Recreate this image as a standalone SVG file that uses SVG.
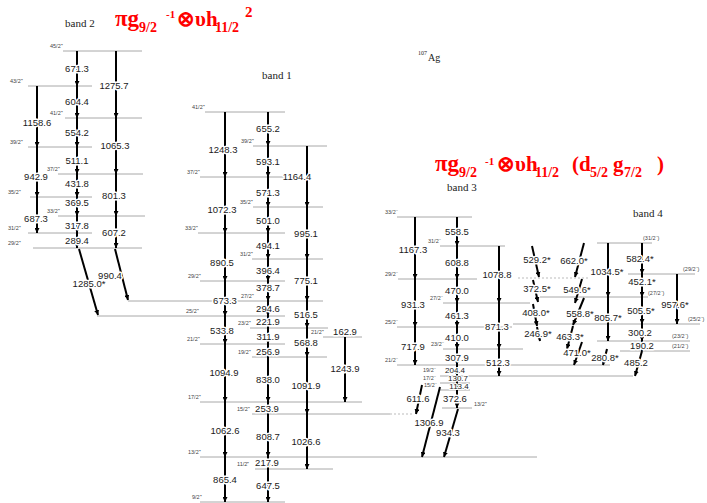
<svg xmlns="http://www.w3.org/2000/svg" width="707" height="503" viewBox="0 0 707 503">
<defs>
<marker id="ah" viewBox="0 0 6 6" refX="6" refY="3" markerWidth="5" markerHeight="5" markerUnits="userSpaceOnUse" orient="auto"><path d="M0,0 L6,3 L0,6z" fill="#000"/></marker>
<style>
.lv{stroke:#a8a8a8;stroke-width:1;fill:none}
.dt{stroke:#bbb;stroke-width:1;stroke-dasharray:2 2;fill:none}
.tr{stroke:#000;stroke-width:2;fill:none;marker-end:url(#ah)}
.e{font-family:"Liberation Sans",Arial,sans-serif;font-size:9.5px;text-anchor:middle;fill:#1a1a1a;stroke:#fff;stroke-width:3;paint-order:stroke;stroke-linejoin:round}
.sm{font-size:8px;stroke-width:2}
.s{font-family:"Liberation Sans",Arial,sans-serif;font-size:5.5px;fill:#444}
.b{font-family:"Liberation Serif","Times New Roman",serif;font-size:11px;fill:#222}
.t{font-family:"Liberation Serif","Times New Roman",serif;font-weight:bold;fill:#f00;font-size:21px}
.pg{font-size:23px}
.sb{font-size:14px}
.sp{font-size:11px}
</style>
</defs>
<rect width="707" height="503" fill="#fff"/>

<g id="titles">
<text class="t" y="26"><tspan class="pg" x="115">πg</tspan><tspan class="sb" x="139" y="32">9/2</tspan><tspan class="sp" x="166" y="18">-1</tspan><tspan x="177" y="26">⊗υh</tspan><tspan class="sb" x="215" y="32">11/2</tspan><tspan x="245" y="17" font-size="15px">2</tspan></text>
<text class="t" y="171"><tspan class="pg" x="435">πg</tspan><tspan class="sb" x="459" y="177">9/2</tspan><tspan class="sp" x="485" y="165">-1</tspan><tspan x="497" y="171">⊗υh</tspan><tspan class="sb" x="535" y="177">11/2</tspan><tspan x="572" y="171">(d</tspan><tspan class="sb" x="590" y="177">5/2</tspan><tspan x="613" y="171">g</tspan><tspan class="sb" x="624" y="177">7/2</tspan><tspan x="657" y="171">)</tspan></text>
<text class="b" x="65" y="27">band 2</text>
<text class="b" x="262" y="79">band 1</text>
<text class="b" x="447" y="191">band 3</text>
<text class="b" x="633" y="217">band 4</text>
<text font-family="Liberation Serif,serif" fill="#222"><tspan x="418" y="55" font-size="6px">107</tspan><tspan x="428" y="61" font-size="10px">Ag</tspan></text>
</g>

<g id="levels">
<g id="b2-45"><line class="lv" x1="63" y1="51" x2="142" y2="51"/><text class="s" x="50" y="48">45/2⁺</text></g>
<g id="b2-43"><line class="lv" x1="28" y1="86" x2="92" y2="86"/><text class="s" x="10" y="83">43/2⁺</text></g>
<g id="b2-41"><line class="lv" x1="65" y1="118" x2="142" y2="118"/><text class="s" x="50" y="115">41/2⁺</text></g>
<g id="b2-39"><line class="lv" x1="28" y1="147" x2="92" y2="147"/><text class="s" x="10" y="144">39/2⁺</text></g>
<g id="b2-37"><line class="lv" x1="58" y1="174" x2="143" y2="174"/><text class="s" x="47" y="171">37/2⁺</text></g>
<g id="b2-35"><line class="lv" x1="30" y1="197" x2="92" y2="197"/><text class="s" x="8" y="194">35/2⁺</text></g>
<g id="b2-33"><line class="lv" x1="58" y1="216" x2="145" y2="216"/><text class="s" x="47" y="213">33/2⁺</text></g>
<g id="b2-31"><line class="lv" x1="28" y1="233" x2="92" y2="233"/><text class="s" x="8" y="230">31/2⁺</text></g>
<g id="b2-29"><line class="lv" x1="33" y1="248" x2="142" y2="248"/><text class="s" x="8" y="245">29/2⁺</text></g>

<g id="b1-41"><line class="lv" x1="205" y1="112" x2="285" y2="112"/><text class="s" x="192" y="109">41/2⁺</text></g>
<g id="b1-39"><line class="lv" x1="253" y1="146" x2="327" y2="146"/><text class="s" x="241" y="143">39/2⁺</text></g>
<g id="b1-37"><line class="lv" x1="200" y1="177" x2="285" y2="177"/><text class="s" x="187" y="174">37/2⁺</text></g>
<g id="b1-35"><line class="lv" x1="253" y1="207" x2="323" y2="207"/><text class="s" x="240" y="204">35/2⁺</text></g>
<g id="b1-33"><line class="lv" x1="198" y1="233" x2="285" y2="233"/><text class="s" x="185" y="230">33/2⁺</text></g>
<g id="b1-31"><line class="lv" x1="252" y1="259" x2="323" y2="259"/><text class="s" x="240" y="256">31/2⁺</text></g>
<g id="b1-29"><line class="lv" x1="200" y1="281" x2="285" y2="281"/><text class="s" x="188" y="278">29/2⁺</text></g>
<g id="b1-27"><line class="lv" x1="128" y1="301" x2="323" y2="301"/><text class="s" x="241" y="298">27/2⁺</text></g>
<g id="b1-25"><line class="lv" x1="97" y1="316" x2="285" y2="316"/><text class="s" x="186" y="313">25/2⁺</text></g>
<g id="b1-23"><line class="lv" x1="250" y1="328" x2="328" y2="328"/><text class="s" x="238" y="325">23/2⁺</text></g>
<g id="b1-21b"><line class="lv" x1="323" y1="337" x2="362" y2="337"/><text class="s" x="311" y="334">21/2⁺</text></g>
<g id="b1-21"><line class="lv" x1="200" y1="344" x2="285" y2="344"/><text class="s" x="187" y="341">21/2⁺</text></g>
<g id="b1-19"><line class="lv" x1="252" y1="357" x2="327" y2="357"/><text class="s" x="238" y="354">19/2⁺</text></g>
<g id="b1-17"><line class="lv" x1="200" y1="402" x2="362" y2="402"/><text class="s" x="188" y="399">17/2⁺</text></g>
<g id="b1-15"><line class="lv" x1="252" y1="414" x2="390" y2="414"/><line class="dt" x1="390" y1="414" x2="413" y2="414"/><text class="s" x="237" y="411">15/2⁺</text></g>
<g id="b1-13"><line class="lv" x1="200" y1="457" x2="537" y2="457"/><text class="s" x="188" y="454">13/2⁺</text></g>
<g id="b1-11"><line class="lv" x1="255" y1="469" x2="333" y2="469"/><text class="s" x="237" y="466">11/2⁺</text></g>
<g id="b1-9"><line class="lv" x1="200" y1="502" x2="285" y2="502"/><text class="s" x="192" y="499">9/2⁺</text></g>

<g id="b3-33"><line class="lv" x1="397" y1="217" x2="472" y2="217"/><text class="s" x="385" y="214">33/2⁻</text></g>
<g id="b3-31"><line class="lv" x1="440" y1="246" x2="505" y2="246"/><text class="s" x="428" y="243">31/2⁻</text></g>
<g id="b3-29"><line class="lv" x1="398" y1="279" x2="477" y2="279"/><text class="s" x="385" y="276">29/2⁻</text></g>
<g id="b3-27"><line class="lv" x1="443" y1="303" x2="530" y2="303"/><text class="s" x="430" y="300">27/2⁻</text></g>
<g id="b3-25"><line class="lv" x1="397" y1="327" x2="512" y2="327"/><text class="s" x="385" y="324">25/2⁻</text></g>
<g id="b3-23"><line class="lv" x1="443" y1="349" x2="523" y2="349"/><text class="s" x="431" y="346">23/2⁻</text></g>
<g id="b3-21"><line class="lv" x1="397" y1="365" x2="610" y2="365"/><text class="s" x="385" y="362">21/2⁻</text></g>
<g id="b3-19"><line class="lv" x1="440" y1="376" x2="633" y2="376"/><text class="s" x="423" y="372">19/2⁻</text></g>
<g id="b3-17"><line class="lv" x1="440" y1="383" x2="470" y2="383"/><text class="s" x="423" y="380">17/2⁻</text></g>
<g id="b3-15"><line class="lv" x1="440" y1="390" x2="470" y2="390"/><text class="s" x="424" y="387">15/2⁻</text></g>
<g id="b3-13"><line class="lv" x1="442" y1="408" x2="472" y2="408"/><text class="s" x="474" y="406">13/2⁺</text></g>

<g id="b4-31"><line class="lv" x1="597" y1="243" x2="652" y2="243"/><text class="s" x="643" y="240">(31/2⁻)</text></g>
<g id="b4-29"><line class="lv" x1="628" y1="274" x2="695" y2="274"/><line class="dt" x1="518" y1="278" x2="590" y2="278"/><text class="s" x="683" y="271">(29/2⁻)</text></g>
<g id="b4-27"><line class="lv" x1="540" y1="297" x2="648" y2="297"/><text class="s" x="648" y="295">(27/2⁻)</text></g>
<g id="b4-25"><line class="lv" x1="513" y1="324" x2="700" y2="324"/><text class="s" x="688" y="321">(25/2⁻)</text></g>
<g id="b4-23"><line class="lv" x1="597" y1="341" x2="690" y2="341"/><text class="s" x="672" y="338">(23/2⁻)</text></g>
<g id="b4-21"><line class="lv" x1="620" y1="351" x2="690" y2="351"/><text class="s" x="672" y="348">(21/2⁻)</text></g>
</g>

<g id="connectors">
<line class="tr" x1="77" y1="51" x2="77" y2="86"/>
<line class="tr" x1="77" y1="86" x2="77" y2="118"/>
<line class="tr" x1="77" y1="118" x2="77" y2="147"/>
<line class="tr" x1="77" y1="147" x2="77" y2="174"/>
<line class="tr" x1="77" y1="174" x2="77" y2="197"/>
<line class="tr" x1="77" y1="197" x2="77" y2="216"/>
<line class="tr" x1="77" y1="216" x2="77" y2="233"/>
<line class="tr" x1="77" y1="233" x2="77" y2="248"/>
<line class="tr" x1="116" y1="51" x2="116" y2="118"/>
<line class="tr" x1="116" y1="118" x2="116" y2="174"/>
<line class="tr" x1="116" y1="174" x2="116" y2="216"/>
<line class="tr" x1="116" y1="216" x2="116" y2="248"/>
<line class="tr" x1="37" y1="86" x2="37" y2="147"/>
<line class="tr" x1="37" y1="147" x2="37" y2="197"/>
<line class="tr" x1="37" y1="197" x2="37" y2="233"/>
<line class="tr" x1="79" y1="249" x2="98" y2="315"/>
<line class="tr" x1="115" y1="249" x2="128" y2="300"/>

<line class="tr" x1="225" y1="112" x2="225" y2="177"/>
<line class="tr" x1="225" y1="177" x2="225" y2="233"/>
<line class="tr" x1="225" y1="233" x2="225" y2="281"/>
<line class="tr" x1="225" y1="281" x2="225" y2="316"/>
<line class="tr" x1="225" y1="316" x2="225" y2="344"/>
<line class="tr" x1="225" y1="344" x2="225" y2="402"/>
<line class="tr" x1="225" y1="402" x2="225" y2="457"/>
<line class="tr" x1="225" y1="457" x2="225" y2="502"/>
<line class="tr" x1="268" y1="112" x2="268" y2="146"/>
<line class="tr" x1="268" y1="146" x2="268" y2="177"/>
<line class="tr" x1="268" y1="177" x2="268" y2="207"/>
<line class="tr" x1="268" y1="207" x2="268" y2="233"/>
<line class="tr" x1="268" y1="233" x2="268" y2="259"/>
<line class="tr" x1="268" y1="259" x2="268" y2="281"/>
<line class="tr" x1="268" y1="281" x2="268" y2="301"/>
<line class="tr" x1="268" y1="301" x2="268" y2="316"/>
<line class="tr" x1="268" y1="316" x2="268" y2="328"/>
<line class="tr" x1="268" y1="328" x2="268" y2="344"/>
<line class="tr" x1="268" y1="344" x2="268" y2="357"/>
<line class="tr" x1="268" y1="357" x2="268" y2="402"/>
<line class="tr" x1="268" y1="402" x2="268" y2="414"/>
<line class="tr" x1="268" y1="414" x2="268" y2="457"/>
<line class="tr" x1="268" y1="457" x2="268" y2="469"/>
<line class="tr" x1="268" y1="469" x2="268" y2="502"/>
<line class="tr" x1="307" y1="146" x2="307" y2="207"/>
<line class="tr" x1="307" y1="207" x2="307" y2="259"/>
<line class="tr" x1="307" y1="259" x2="307" y2="301"/>
<line class="tr" x1="307" y1="301" x2="307" y2="328"/>
<line class="tr" x1="307" y1="328" x2="307" y2="357"/>
<line class="tr" x1="307" y1="357" x2="307" y2="414"/>
<line class="tr" x1="307" y1="414" x2="307" y2="469"/>
<line class="tr" x1="345" y1="337" x2="345" y2="402"/>

<line class="tr" x1="415" y1="217" x2="415" y2="279"/>
<line class="tr" x1="415" y1="279" x2="415" y2="327"/>
<line class="tr" x1="415" y1="327" x2="415" y2="365"/>
<line class="tr" x1="457" y1="217" x2="457" y2="246"/>
<line class="tr" x1="457" y1="246" x2="457" y2="279"/>
<line class="tr" x1="457" y1="279" x2="457" y2="303"/>
<line class="tr" x1="457" y1="303" x2="457" y2="327"/>
<line class="tr" x1="457" y1="327" x2="457" y2="349"/>
<line class="tr" x1="457" y1="349" x2="457" y2="365"/>
<line class="tr" x1="457" y1="365" x2="457" y2="376"/>
<line class="tr" x1="457" y1="376" x2="457" y2="383"/>
<line class="tr" x1="457" y1="383" x2="457" y2="390"/>
<line class="tr" x1="457" y1="390" x2="457" y2="408"/>
<line class="tr" x1="499" y1="246" x2="499" y2="303"/>
<line class="tr" x1="499" y1="303" x2="499" y2="349"/>
<line class="tr" x1="499" y1="349" x2="499" y2="376"/>
<line class="tr" x1="422" y1="385" x2="416" y2="414"/>
<line class="tr" x1="440" y1="387" x2="422" y2="457"/>
<line class="tr" x1="458" y1="409" x2="444" y2="457"/>

<line class="tr" x1="608" y1="243" x2="608" y2="297"/>
<line class="tr" x1="608" y1="297" x2="608" y2="341"/>
<line class="tr" x1="642" y1="243" x2="642" y2="274"/>
<line class="tr" x1="642" y1="274" x2="642" y2="297"/>
<line class="tr" x1="642" y1="297" x2="642" y2="324"/>
<line class="tr" x1="642" y1="324" x2="642" y2="341"/>
<line class="tr" x1="642" y1="341" x2="642" y2="351"/>
<line class="tr" x1="642" y1="351" x2="635" y2="376"/>
<line class="tr" x1="677" y1="274" x2="677" y2="324"/>
<line class="tr" x1="532" y1="246" x2="539" y2="277"/>
<line class="tr" x1="533" y1="280" x2="538" y2="302"/>
<line class="tr" x1="533" y1="304" x2="537" y2="326"/>
<line class="tr" x1="537" y1="327" x2="540" y2="341"/>
<line class="tr" x1="584" y1="243" x2="575" y2="277"/>
<line class="tr" x1="582" y1="279" x2="575" y2="303"/>
<line class="tr" x1="584" y1="298" x2="573" y2="325"/>
<line class="tr" x1="573" y1="326" x2="567" y2="349"/>
<line class="tr" x1="582" y1="342" x2="574" y2="365"/>
<line class="tr" x1="607" y1="349" x2="603" y2="365"/>
</g>

<g id="gamma-labels">
<text class="e" x="77" y="72">671.3</text>
<text class="e" x="77" y="105">604.4</text>
<text class="e" x="77" y="136">554.2</text>
<text class="e" x="77" y="164">511.1</text>
<text class="e" x="77" y="187">431.8</text>
<text class="e" x="77" y="206">369.5</text>
<text class="e" x="77" y="229">317.8</text>
<text class="e" x="77" y="244">289.4</text>
<text class="e" x="114" y="89">1275.7</text>
<text class="e" x="115" y="149">1065.3</text>
<text class="e" x="114" y="199">801.3</text>
<text class="e" x="114" y="236">607.2</text>
<text class="e" x="37" y="126">1158.6</text>
<text class="e" x="36" y="180">942.9</text>
<text class="e" x="36" y="222">687.3</text>
<text class="e" x="89" y="287">1285.0*</text>
<text class="e" x="110" y="279">990.4</text>

<text class="e" x="223" y="153">1248.3</text>
<text class="e" x="222" y="213">1072.3</text>
<text class="e" x="222" y="266">890.5</text>
<text class="e" x="225" y="304">673.3</text>
<text class="e" x="222" y="334">533.8</text>
<text class="e" x="224" y="376">1094.9</text>
<text class="e" x="225" y="434">1062.6</text>
<text class="e" x="225" y="483">865.4</text>
<text class="e" x="268" y="132">655.2</text>
<text class="e" x="268" y="165">593.1</text>
<text class="e" x="268" y="196">571.3</text>
<text class="e" x="268" y="224">501.0</text>
<text class="e" x="268" y="249">494.1</text>
<text class="e" x="268" y="274">396.4</text>
<text class="e" x="268" y="291">378.7</text>
<text class="e" x="268" y="312">294.6</text>
<text class="e" x="268" y="325">221.9</text>
<text class="e" x="268" y="340">311.9</text>
<text class="e" x="268" y="355">256.9</text>
<text class="e" x="268" y="383">838.0</text>
<text class="e" x="267" y="412">253.9</text>
<text class="e" x="268" y="440">808.7</text>
<text class="e" x="267" y="466">217.9</text>
<text class="e" x="268" y="489">647.5</text>
<text class="e" x="297" y="180">1164.4</text>
<text class="e" x="306" y="237">995.1</text>
<text class="e" x="306" y="284">775.1</text>
<text class="e" x="306" y="318">516.5</text>
<text class="e" x="306" y="346">568.8</text>
<text class="e" x="306" y="389">1091.9</text>
<text class="e" x="306" y="445">1026.6</text>
<text class="e" x="345" y="372">1243.9</text>
<text class="e" x="345" y="335">162.9</text>

<text class="e" x="413" y="253">1167.3</text>
<text class="e" x="413" y="308">931.3</text>
<text class="e" x="413" y="350">717.9</text>
<text class="e" x="457" y="235">558.5</text>
<text class="e" x="457" y="266">608.8</text>
<text class="e" x="457" y="294">470.0</text>
<text class="e" x="457" y="319">461.3</text>
<text class="e" x="457" y="341">410.0</text>
<text class="e" x="457" y="361">307.9</text>
<text class="e sm" x="455" y="373">204.4</text>
<text class="e sm" x="458" y="381">130.7</text>
<text class="e sm" x="459" y="389">113.4</text>
<text class="e" x="455" y="402">372.6</text>
<text class="e" x="497" y="278">1078.8</text>
<text class="e" x="497" y="330">871.3</text>
<text class="e" x="498" y="366">512.3</text>
<text class="e" x="418" y="402">611.6</text>
<text class="e" x="429" y="426">1306.9</text>
<text class="e" x="448" y="436">934.3</text>

<text class="e" x="607" y="275">1034.5*</text>
<text class="e" x="608" y="321">805.7*</text>
<text class="e" x="640" y="262">582.4*</text>
<text class="e" x="642" y="285">452.1*</text>
<text class="e" x="641" y="314">505.5*</text>
<text class="e" x="640" y="336">300.2</text>
<text class="e" x="642" y="349">190.2</text>
<text class="e" x="636" y="366">485.2</text>
<text class="e" x="675" y="308">957.6*</text>
<text class="e" x="537" y="263">529.2*</text>
<text class="e" x="537" y="292">372.5*</text>
<text class="e" x="536" y="316">408.0*</text>
<text class="e" x="538" y="337">246.9*</text>
<text class="e" x="574" y="264">662.0*</text>
<text class="e" x="577" y="293">549.6*</text>
<text class="e" x="580" y="317">558.8*</text>
<text class="e" x="570" y="340">463.3*</text>
<text class="e" x="577" y="356">471.0*</text>
<text class="e" x="605" y="361">280.8*</text>
</g>
</svg>
